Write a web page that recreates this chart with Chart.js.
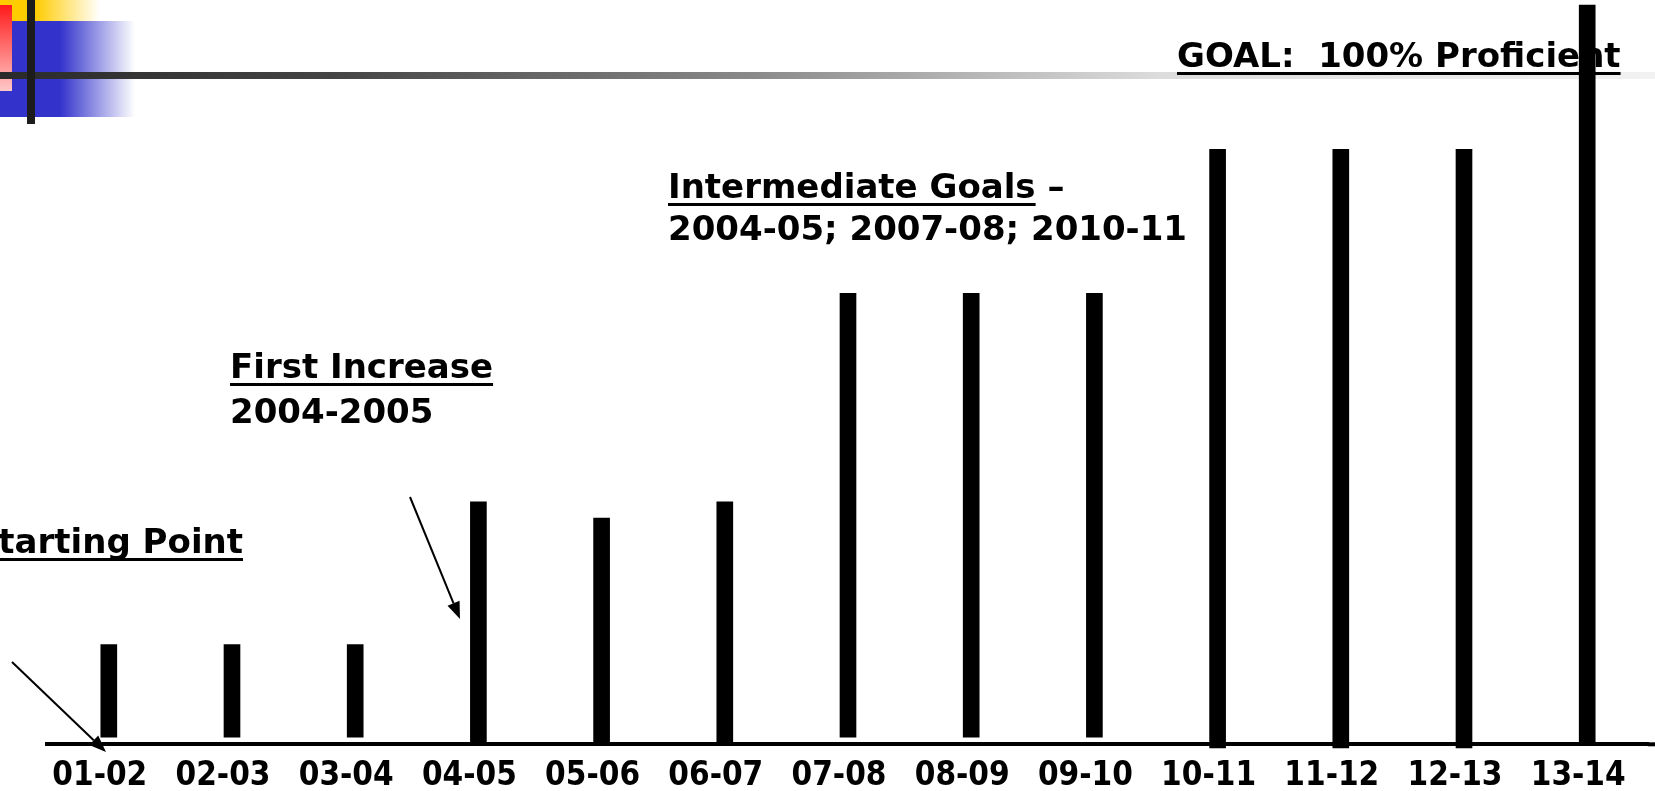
<!DOCTYPE html>
<html>
<head>
<meta charset="utf-8">
<script src="https://cdn.jsdelivr.net/npm/chart.js@4"></script>
<style>
  html, body { margin: 0; padding: 0; background: #fff; }
  #wrap { width: 1655px; height: 791px; position: relative; }
</style>
</head>
<body>
<div id="wrap"><canvas id="c"></canvas></div>
<script>
// ---- Data (y in % proficient) ----
const categories = ['01-02','02-03','03-04','04-05','05-06','06-07','07-08','08-09','09-10','10-11','11-12','12-13','13-14'];
const barTops    = [13.5, 13.5, 13.5, 32.8, 30.6, 32.8, 61.0, 61.0, 61.0, 80.5, 80.5, 80.5, 100];
const barBases   = [0.95, 0.95, 0.95, 0, 0, 0, 0.95, 0.95, 0.95, -0.5, -0.5, -0.5, 0.3];

const annotationFont = "bold 34px 'DejaVu Sans', Verdana, sans-serif";

function underlineText(ctx, text, x, y, align) {
  ctx.textAlign = align || 'left';
  ctx.fillText(text, x, y);
  const w = ctx.measureText(text).width;
  const x0 = (align === 'right') ? x - w : x;
  ctx.fillRect(x0, y + 5, w, 3);
}

function arrow(ctx, x1, y1, x2, y2) {
  const ang = Math.atan2(y2 - y1, x2 - x1);
  const len = 17, hw = 6.5;
  const bx = x2 - len * Math.cos(ang), by = y2 - len * Math.sin(ang);
  ctx.strokeStyle = '#000';
  ctx.lineWidth = 2;
  ctx.beginPath(); ctx.moveTo(x1, y1); ctx.lineTo(bx, by); ctx.stroke();
  ctx.fillStyle = '#000';
  ctx.beginPath();
  ctx.moveTo(x2, y2);
  ctx.lineTo(bx + hw * Math.sin(ang), by - hw * Math.cos(ang));
  ctx.lineTo(bx - hw * Math.sin(ang), by + hw * Math.cos(ang));
  ctx.closePath(); ctx.fill();
}

const slidePlugin = {
  id: 'slide',
  beforeDraw(chart) {
    const ctx = chart.ctx;
    ctx.save();
    ctx.fillStyle = '#fff';
    ctx.fillRect(0, 0, chart.width, chart.height);
    // yellow block
    let g = ctx.createLinearGradient(35, 0, 100, 0);
    g.addColorStop(0, '#FFCC00'); g.addColorStop(1, 'rgba(255,204,0,0)');
    ctx.fillStyle = g; ctx.fillRect(0, 0, 100, 21);
    // blue block
    g = ctx.createLinearGradient(60, 0, 135, 0);
    g.addColorStop(0, '#3333CC'); g.addColorStop(1, 'rgba(51,51,204,0)');
    ctx.fillStyle = g; ctx.fillRect(0, 21, 135, 96);
    // red block
    g = ctx.createLinearGradient(0, 5, 0, 91);
    g.addColorStop(0, '#FF1A1A'); g.addColorStop(1, '#FFC8C8');
    ctx.fillStyle = g; ctx.fillRect(0, 5, 12, 86);
    // horizontal rule
    g = ctx.createLinearGradient(0, 0, 1655, 0);
    g.addColorStop(0, '#2a2a2a'); g.addColorStop(0.2, '#444');
    g.addColorStop(0.45, '#888'); g.addColorStop(0.7, '#dcdcdc'); g.addColorStop(1, '#f2f2f2');
    ctx.fillStyle = g; ctx.fillRect(0, 72, 1655, 7);
    // vertical black bar
    ctx.fillStyle = '#1c1c1c'; ctx.fillRect(27, 0, 8, 124);
    ctx.restore();
  },
  beforeDatasetsDraw(chart) {
    const ctx = chart.ctx;
    ctx.save();
    // extend the axis line to the right edge of the slide
    ctx.fillStyle = '#000';
    ctx.fillRect(chart.chartArea.right - 1, chart.chartArea.bottom - 2, chart.width - chart.chartArea.right + 1, 4);
    ctx.font = annotationFont;
    ctx.textBaseline = 'alphabetic';
    underlineText(ctx, 'GOAL:  100% Proficient', 1177, 67);
    underlineText(ctx, 'Intermediate Goals', 668, 198);
    const w1 = ctx.measureText('Intermediate Goals').width;
    ctx.textAlign = 'left';
    ctx.fillText(' \u2013', 668 + w1, 198);
    ctx.fillText('2004-05; 2007-08; 2010-11', 668, 240);
    underlineText(ctx, 'First Increase', 230, 378);
    ctx.textAlign = 'left';
    ctx.fillText('2004-2005', 230, 423);
    underlineText(ctx, 'Starting Point', 243, 553, 'right');
    ctx.restore();
  },
  afterDatasetsDraw(chart) {
    const ctx = chart.ctx;
    ctx.save();
    arrow(ctx, 12, 662, 106, 752);
    arrow(ctx, 410, 497, 460, 619);
    ctx.restore();
  }
};

new Chart(document.getElementById('c'), {
  type: 'bar',
  data: {
    labels: categories,
    datasets: [{
      data: categories.map((c, i) => [barBases[i], barTops[i]]),
      backgroundColor: '#000',
      borderWidth: 0,
      barThickness: 16,
      clip: false
    }]
  },
  options: {
    responsive: true,
    maintainAspectRatio: false,
    animation: false,
    events: [],
    layout: { padding: { left: 47.2, right: 6.2, top: 0, bottom: -17 } },
    plugins: { legend: { display: false }, tooltip: { enabled: false } },
    scales: {
      x: {
        type: 'category',
        offset: true,
        grid: { display: false, drawTicks: false },
        border: { display: true, color: '#000', width: 4 },
        ticks: {
          color: '#000',
          font: { family: "'DejaVu Sans Condensed', 'DejaVu Sans', sans-serif", weight: 'bold', size: 33, lineHeight: 0.9 },
          padding: 17,
          labelOffset: -9,
          maxRotation: 0,
          minRotation: 0,
          autoSkip: false
        }
      },
      y: { display: false, min: 0, max: 100.7 }
    }
  },
  plugins: [slidePlugin]
});
</script>
</body>
</html>
